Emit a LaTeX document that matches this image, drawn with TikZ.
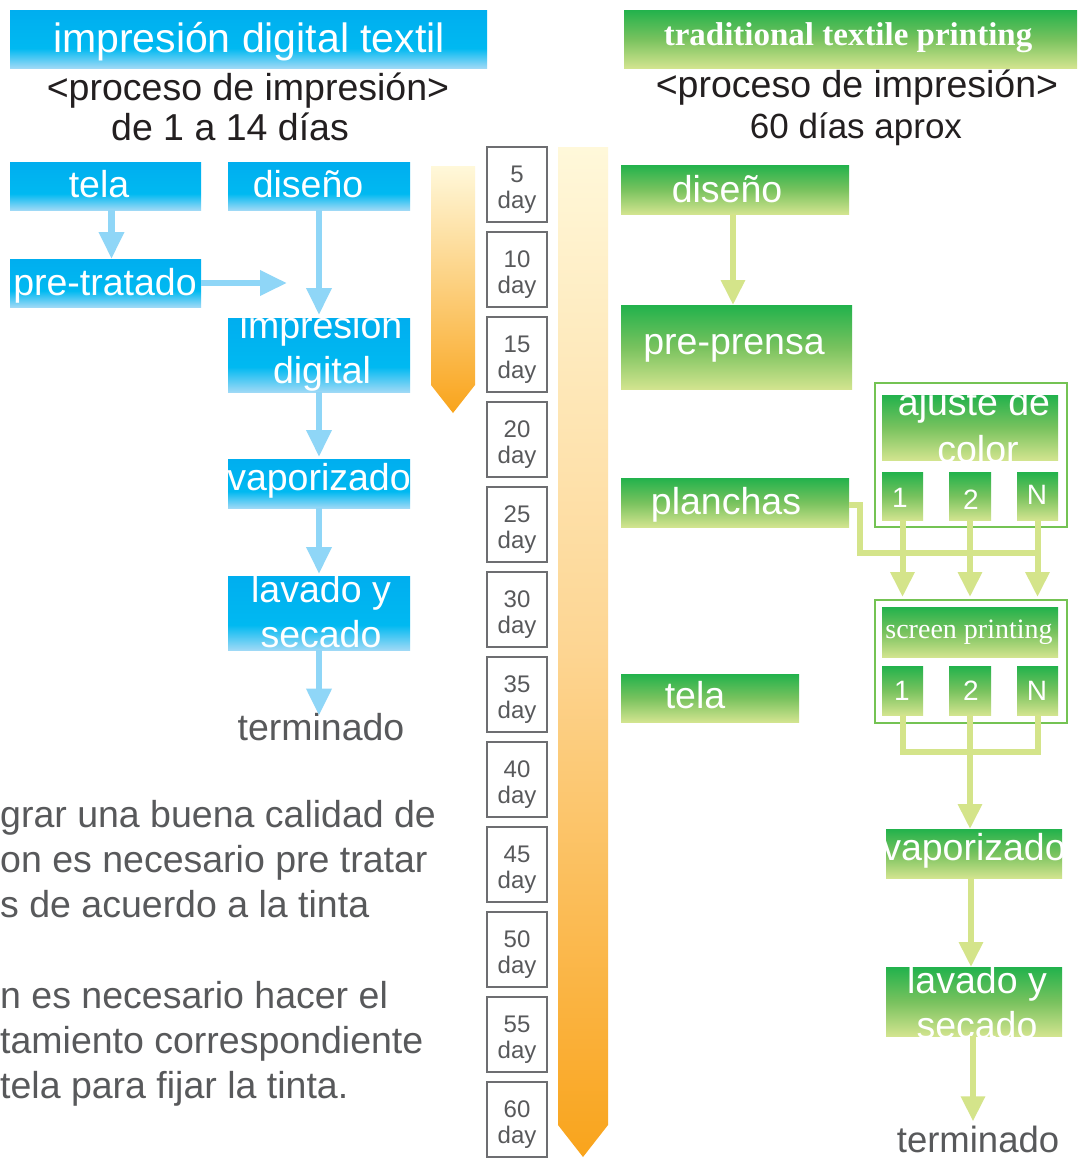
\documentclass[tikz,border=0pt]{standalone}
\usepackage{fontspec}
\setmainfont{Liberation Sans}
\newfontfamily\tnr{Liberation Serif}
\usetikzlibrary{arrows.meta}
\definecolor{bTop}{HTML}{00AEEF}
\definecolor{bMid}{HTML}{00B9F1}
\definecolor{bBot}{HTML}{9ED9F6}
\definecolor{gTop}{HTML}{22B24C}
\definecolor{gMid}{HTML}{78C25E}
\definecolor{gBot}{HTML}{D2E48F}
\definecolor{bArr}{HTML}{8FD6F7}
\definecolor{gArr}{HTML}{D4E48A}
\definecolor{gLine}{HTML}{74C353}
\definecolor{txtgray}{HTML}{58595B}
\definecolor{txtblack}{HTML}{231F20}
\definecolor{dayline}{HTML}{6D6E71}
\definecolor{oTop}{HTML}{FFF8DA}
\definecolor{oMid}{HTML}{FDD592}
\definecolor{oBot}{HTML}{F9A41C}
\pgfdeclareverticalshading{bluesh}{100bp}{color(0bp)=(bBot); color(25bp)=(bBot); color(42bp)=(bMid); color(75bp)=(bTop); color(100bp)=(bTop)}
\pgfdeclareverticalshading{greensh}{100bp}{color(0bp)=(gBot); color(25bp)=(gBot); color(50bp)=(gMid); color(75bp)=(gTop); color(100bp)=(gTop)}
\pgfdeclareverticalshading{orsh}{100bp}{color(0bp)=(oBot); color(25bp)=(oBot); color(75bp)=(oTop); color(100bp)=(oTop)}
\pgfdeclareverticalshading{orlong}{100bp}{color(0bp)=(oBot); color(25bp)=(oBot); color(50bp)=(oMid); color(75bp)=(oTop); color(100bp)=(oTop)}
\begin{document}
\begin{tikzpicture}[x=1pt,y=-1pt,
  bbox/.style={rectangle,inner sep=0pt,outer sep=0pt,shade,shading=bluesh},
  gbox/.style={rectangle,inner sep=0pt,outer sep=0pt,shade,shading=greensh},
  frame/.style={rectangle,draw=gLine,line width=2.5pt,inner sep=0pt,outer sep=0pt},
  lbl/.style={text=white,inner sep=0pt,anchor=base,font=\fontsize{37.5}{45}\selectfont},
  sublbl/.style={text=white,inner sep=0pt,anchor=base,font=\fontsize{28}{30}\selectfont},
  dark/.style={text=txtblack,inner sep=0pt,anchor=base,font=\fontsize{37.5}{45}\selectfont},
  graytxt/.style={text=txtgray,inner sep=0pt,anchor=base,font=\fontsize{37.5}{45}\selectfont},
  daybox/.style={rectangle,draw=dayline,line width=2pt,fill=white,minimum width=60pt,minimum height=75pt,inner sep=0pt},
  daytxt/.style={text=txtgray,inner sep=0pt,anchor=base,font=\fontsize{24}{26}\selectfont},
  barrow/.style={draw=bArr,line width=6.5pt,-{Triangle[width=24pt,length=27pt]}},
  garrow/.style={draw=gArr,line width=6pt,-{Triangle[width=23pt,length=25pt]}},
  gline/.style={draw=gArr,line width=6pt,line join=miter}
]
\fill[white] (0,0) rectangle (1077,1160);
\path[use as bounding box] (0,0) rectangle (1077,1160);

% ---------- headers ----------
\node[bbox,minimum width=477pt,minimum height=58pt] (lhead) at (248.5,39) {};
\node[lbl,font=\fontsize{41}{45}\selectfont] (lheadt) at (249,52) {impresión digital textil};
\node[dark] (lsub1) at (248,100) {<proceso de impresión>};
\node[dark] (lsub2) at (230,140) {de 1 a 14 días};

\node[gbox,minimum width=453pt,minimum height=58pt] (rhead) at (850.5,39) {};
\node[lbl,font=\tnr\bfseries\fontsize{33}{36}\selectfont] (rheadt) at (848,45) {traditional textile printing};
\node[dark] (rsub1) at (857,97) {<proceso de impresión>};
\node[dark,font=\fontsize{35}{42}\selectfont] (rsub2) at (856,138) {60 días aprox};

% ---------- timeline arrows ----------
\shade[shading=orsh] (431,166) -- (475,166) -- (475,385) -- (453,413) -- (431,385) -- cycle;
\shade[shading=orlong] (558,147) -- (608,147) -- (608,1125) -- (583,1157) -- (558,1125) -- cycle;

% ---------- day boxes ----------
\foreach \n [count=\i from 0] in {5,10,15,20,25,30,35,40,45,50,55,60}{
  \node[daybox] (day\n) at (517,{184.5+85*\i}) {};
  \node[daytxt] (dayn\n) at (517,{182+85*\i}) {\n};
  \node[daytxt] (dayd\n) at (517,{208+85*\i}) {day};
}

% ---------- left flow ----------
\node[bbox,minimum width=191pt,minimum height=48pt] (ltela) at (105.5,186) {};
\node[lbl] (ltelat) at (99,197) {tela};
\node[bbox,minimum width=182pt,minimum height=48pt] (ldis) at (319,186) {};
\node[lbl] (ldist) at (308,197) {diseño};
\node[bbox,minimum width=191pt,minimum height=48pt] (lpre) at (105.5,283) {};
\node[lbl] (lpret) at (105,295) {pre-tratado};
\node[bbox,minimum width=182pt,minimum height=74pt] (ldig) at (319,355) {};
\node[lbl] (ldigt1) at (321,338) {impresión};
\node[lbl] (ldigt2) at (322,383) {digital};
\node[bbox,minimum width=182pt,minimum height=49pt] (lvap) at (319,483.5) {};
\node[lbl] (lvapt) at (319,490) {vaporizado};
\node[bbox,minimum width=182pt,minimum height=74pt] (llav) at (319,613) {};
\node[lbl] (llavt1) at (321,602) {lavado y};
\node[lbl] (llavt2) at (321,647) {secado};
\node[graytxt] (lterm) at (321,740) {terminado};

% ---------- paragraph ----------
\node[graytxt,anchor=base west] (p1) at (0,827) {grar una buena calidad de};
\node[graytxt,anchor=base west] (p2) at (0,872) {on es necesario pre tratar};
\node[graytxt,anchor=base west] (p3) at (0,917) {s de acuerdo a la tinta};
\node[graytxt,anchor=base west] (p4) at (0,1008) {n es necesario hacer el};
\node[graytxt,anchor=base west] (p5) at (0,1053) {tamiento correspondiente};
\node[graytxt,anchor=base west] (p6) at (0,1098) {tela para fijar la tinta.};

% ---------- right flow ----------
\node[gbox,minimum width=228pt,minimum height=49pt] (rdis) at (735,189.5) {};
\node[lbl] (rdist) at (727,202) {diseño};
\node[gbox,minimum width=231pt,minimum height=84pt] (rpre) at (736.5,347) {};
\node[lbl] (rpret) at (734,354) {pre-prensa};
\node[gbox,minimum width=228pt,minimum height=49pt] (rpla) at (735,502.5) {};
\node[lbl] (rplat) at (726,514) {planchas};
\node[gbox,minimum width=178pt,minimum height=48pt] (rtela) at (710,698) {};
\node[lbl] (rtelat) at (695,708) {tela};

\node[frame,minimum width=192pt,minimum height=144pt] (raj) at (971,455) {};
\node[gbox,minimum width=176pt,minimum height=65pt] (rajh) at (970,427.5) {};
\node[lbl] (rajt1) at (974,415) {ajuste de};
\node[lbl] (rajt2) at (978,462) {color};
\node[gbox,minimum width=41pt,minimum height=48pt] (ra1) at (902.5,496) {};
\node[gbox,minimum width=42pt,minimum height=48pt] (ra2) at (970,496) {};
\node[gbox,minimum width=41pt,minimum height=48pt] (raN) at (1037.5,496) {};
\node[sublbl] (ra1t) at (900,507) {1};
\node[sublbl] (ra2t) at (971,509) {2};
\node[sublbl] (raNt) at (1037,504) {N};

\node[frame,minimum width=192pt,minimum height=123pt] (rsc) at (971,661.5) {};
\node[gbox,minimum width=176pt,minimum height=50pt] (rsch) at (970,632) {};
\node[lbl,font=\tnr\fontsize{28}{30}\selectfont] (rscht) at (969,638) {screen printing};
\node[gbox,minimum width=41pt,minimum height=49pt] (rs1) at (902.5,690.5) {};
\node[gbox,minimum width=42pt,minimum height=49pt] (rs2) at (970,690.5) {};
\node[gbox,minimum width=41pt,minimum height=49pt] (rsN) at (1037.5,690.5) {};
\node[sublbl] (rs1t) at (902,700) {1};
\node[sublbl] (rs2t) at (971,700) {2};
\node[sublbl] (rsNt) at (1037,700) {N};

\node[gbox,minimum width=176pt,minimum height=49pt] (rvap) at (974,853.5) {};
\node[lbl] (rvapt) at (974,860) {vaporizado};
\node[gbox,minimum width=176pt,minimum height=69pt] (rlav) at (974,1001.5) {};
\node[lbl] (rlavt1) at (977,993) {lavado y};
\node[lbl] (rlavt2) at (977,1038) {secado};
\node[graytxt,font=\fontsize{36.5}{44}\selectfont] (rterm) at (978,1152) {terminado};

% ---------- left connectors ----------
\coordinate (lpt) at (287,283);
\draw[barrow] ([xshift=6pt]ltela.south) -- ([xshift=6pt]lpre.north);
\draw[barrow] (lpre.east) -- (lpt);
\draw[barrow] (ldis.south) -- ([yshift=3pt]ldig.north);
\draw[barrow] (ldig.south) -- ([yshift=2pt]lvap.north);
\draw[barrow] (lvap.south) -- ([yshift=2pt]llav.north);
\coordinate (ltermtop) at ([yshift=-3pt]lterm.north);
\draw[barrow] (llav.south) -- (llav.south |- ltermtop);

% ---------- right connectors ----------
\draw[garrow] ([xshift=-2pt]rdis.south) -- ([xshift=-2pt]rdis.south |- rpre.north);
\coordinate (rj1) at (860,553);
\coordinate (rj2) at (1037.5,553);
\draw[gline] ([yshift=-2pt]rpla.east) -| (rj1) -- (rj2);
\draw[garrow] (ra1.south) -- ([yshift=3pt]ra1.south |- rsc.north);
\draw[garrow] (ra2.south) -- ([yshift=3pt]ra2.south |- rsc.north);
\draw[garrow] (raN.south) -- ([yshift=3pt]raN.south |- rsc.north);
\coordinate (rjb) at (970,752);
\draw[gline] (rs1.south) |- (rjb) -| (rsN.south);
\draw[gline] (rs2.south) -- (rs2.south |- rjb);
\draw[garrow] (rjb) -- (rjb |- rvap.north);
\draw[garrow] ([xshift=-3pt]rvap.south) -- ([xshift=-3pt]rlav.north);
\coordinate (rtermtop) at ([yshift=4pt]rterm.north);
\draw[garrow] ([xshift=-1pt]rlav.south) -- ([xshift=-1pt]rlav.south |- rtermtop);
\end{tikzpicture}
\end{document}
